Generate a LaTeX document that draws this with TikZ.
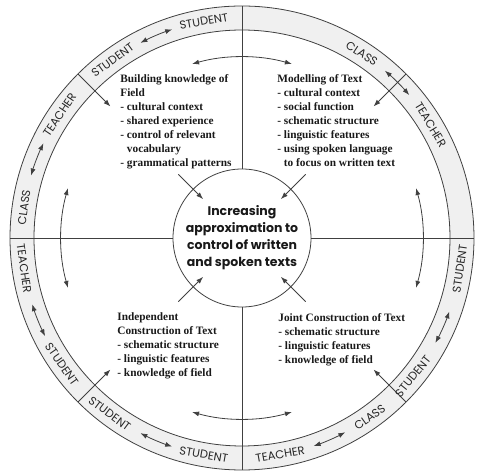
\documentclass[tikz,border=0pt]{standalone}
\usepackage{fontspec}
\setmainfont{Liberation Serif}
\newfontfamily\geofont{Poppins}
\usetikzlibrary{arrows.meta}
\begin{document}
\begin{tikzpicture}[x=1pt, y=1pt, line width=0.8pt, black!75, >={Latex[length=7pt,width=5pt]},
    bandword/.style = {inner sep=0pt, text=black!85, font=\geofont\fontsize{11.5}{12}\selectfont},
    quad/.style = {anchor=north west, align=left, inner sep=0pt, text=black!90, font=\fontsize{11.3}{14}\selectfont\bfseries},
    hub/.style = {circle, draw, minimum size=138pt, align=center, inner sep=0pt, text=black!90, font=\geofont\fontsize{12.5}{17}\selectfont\bfseries}]
    \useasboundingbox (-242,-235) rectangle (238,238);

    \fill[gray!12, even odd rule] (0,0) circle[radius=232] (0,0) circle[radius=208];
    \draw (0,0) circle[radius=232];
    \draw (0,0) circle[radius=208];

    \node[hub] (hub) at (0,0) {Increasing\\approximation to\\control of written\\and spoken texts};

    \node[quad] (field) at (-122,164) {Building knowledge of\\Field\\- cultural context\\- shared experience\\- control of relevant\\\hphantom{- }vocabulary\\- grammatical patterns};
    \node[quad] (model) at (35,163.5) {Modelling of Text\\- cultural context\\- social function\\- schematic structure\\- linguistic features\\- using spoken language\\\hphantom{- }to focus on written text};
    \node[quad] (indep) at (-125,-74.5) {Independent\\Construction of Text\\- schematic structure\\- linguistic features\\- knowledge of field};
    \node[quad] (joint) at (36,-75.5) {Joint Construction of Text\\- schematic structure\\- linguistic features\\- knowledge of field};

    \foreach \a in {0,90,180,270} {
        \coordinate (rim\a) at (\a:232);
        \draw (hub.\a) -- (rim\a);
        \coordinate (arc\a) at (\a-16:181);
        \draw[<->] (arc\a) arc[start angle=\a-16, end angle=\a+16, radius=181];
    }
    \foreach \a in {45,135,225,315} {
        \coordinate (rim\a) at (\a:232);
        \coordinate (mid\a) at (\a:186);
        \coordinate (in\a) at (\a:90);
        \coordinate (core\a) at (\a:55);
        \draw[->] (rim\a) -- (mid\a);
        \draw[->] (in\a) -- (core\a);
    }

    \foreach \a [count=\i] in {113,159,45,336,293.5,202,247} {
        \coordinate (swap\i) at (\a-4.5:220);
        \draw[<->] (swap\i) arc[start angle=\a-4.5, end angle=\a+4.5, radius=220];
    }

    \foreach \a/\w [count=\i] in {100/STUDENT,126/STUDENT,146/TEACHER,172/CLASS,57/CLASS,31/TEACHER}
        \node[bandword, rotate=\a-90] (up\i) at (\a:220) {\w};
    \foreach \a/\w [count=\i] in {188/TEACHER,215/STUDENT,233/STUDENT,260/STUDENT,280/TEACHER,305.5/CLASS,321/STUDENT,352/STUDENT}
        \node[bandword, rotate=\a+90] (down\i) at (\a:220) {\w};
\end{tikzpicture}
\end{document}
